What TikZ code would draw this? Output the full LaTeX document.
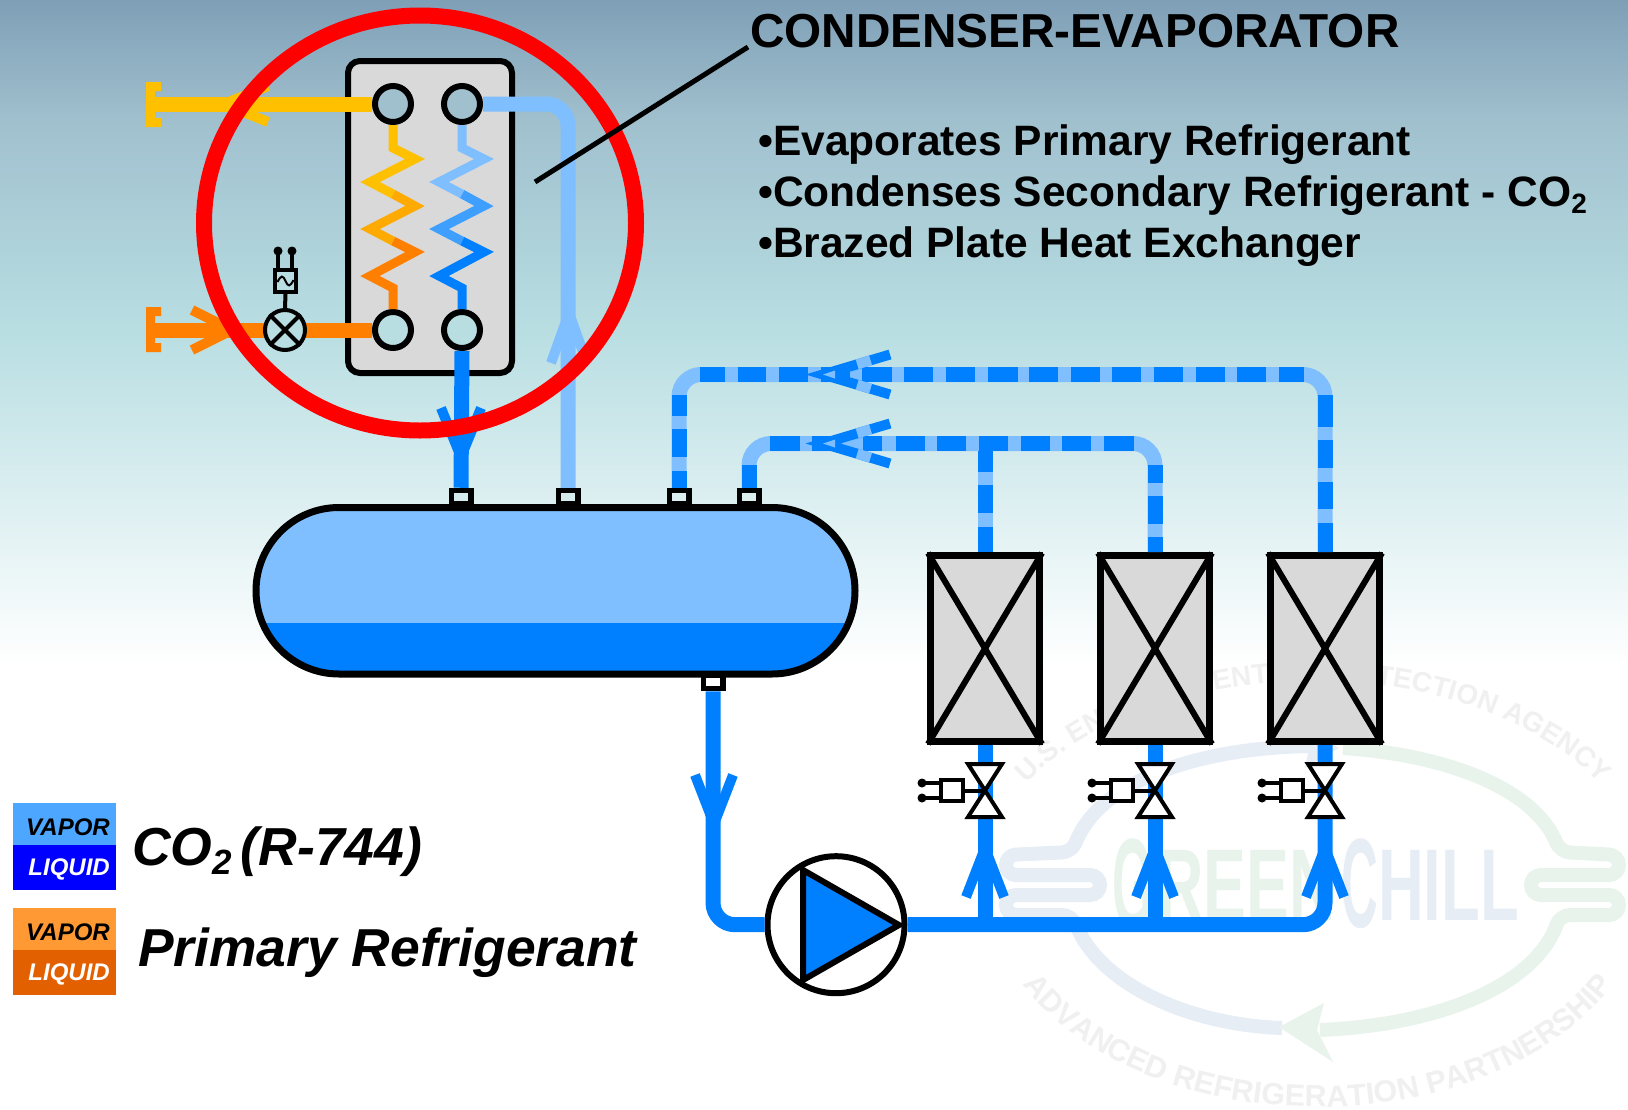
\documentclass[tikz,border=0pt]{standalone}
\usepackage{fontspec}
\usepackage{graphicx}
\setmainfont{Liberation Sans}
\usetikzlibrary{decorations.text,calc}
\definecolor{bgA}{HTML}{7F9FB7}
\definecolor{bgB}{HTML}{A0C0CE}
\definecolor{bgC}{HTML}{B8DEE2}
\definecolor{liq}{HTML}{0080FF}
\definecolor{vap}{HTML}{80BFFF}
\definecolor{midb}{HTML}{3F9FFF}
\definecolor{yel}{HTML}{FFC000}
\definecolor{mido}{HTML}{FFAA00}
\definecolor{ora}{HTML}{FF8000}
\definecolor{wmtext}{HTML}{F0F0F0}
\definecolor{wmgreen}{HTML}{E8F3EC}
\definecolor{wmblue}{HTML}{E6EDF5}
\definecolor{grayfill}{HTML}{D9D9D9}
\tikzset{
  x=1pt,y=-1pt,
  pipe/.style={line width=15pt},
  arm/.style={line width=10pt,miter limit=10},
  zig/.style={line width=9pt,miter limit=10},
  port/.style={circle,draw=black,line width=6pt,minimum size=36pt,inner sep=0pt},
  nozzle/.style={rectangle,draw=black,line width=5.5pt,minimum width=19.5pt,minimum height=13pt,inner sep=0pt},
  cooler/.style={rectangle,draw=black,line width=7pt,fill=grayfill,minimum width=109pt,minimum height=186pt,inner sep=0pt},
  blk/.style={draw=black,line width=6pt},
  thinl/.style={draw=black,line width=4pt},
  legbox/.style={rectangle,minimum width=103pt,inner sep=0pt},
  legtxt/.style={font=\fontsize{24}{24}\selectfont\bfseries\itshape,inner sep=0pt,anchor=base east},
  wmring/.style={line width=14pt,line cap=butt},
  wmarc/.style={decorate,decoration={text along path,text align=center}},
}
\newcommand{\chev}[4]{\draw[#4,arm] (#2)--(#1)--(#3);}
\begin{document}
\begin{tikzpicture}
\useasboundingbox (0,0) rectangle (1628,1109);
% background
\fill[white] (0,0) rectangle (1628,1109);
\shade[top color=bgA,bottom color=bgB] (0,0) rectangle (1628,120);
\shade[top color=bgB,bottom color=bgC] (0,120) rectangle (1628,330);
\shade[top color=bgC,bottom color=white] (0,330) rectangle (1628,665);
% watermark
\begin{scope}
\draw[wmblue,wmring,rounded corners=10pt] (1309,746) .. controls (1200,748) and (1100,780) .. (1072,852) -- (1006,855) -- (1006,875) -- (1100,875) -- (1100,895) -- (1006,895) -- (1006,915) -- (1072,915) .. controls (1100,985) and (1190,1025) .. (1282,1028);
\draw[wmgreen,wmring,rounded corners=10pt] (1343,748) .. controls (1450,755) and (1535,790) .. (1560,852) -- (1619,855) -- (1619,875) -- (1531,875) -- (1531,895) -- (1619,895) -- (1619,915) -- (1560,915) .. controls (1535,985) and (1440,1025) .. (1320,1030);
\fill[wmgreen] (1279,1027) -- (1324,1003) -- (1317,1030) -- (1333,1062) -- cycle;
\fill[wmblue] (1339,748) -- (1305,728) -- (1309,748) -- (1305,768) -- cycle;
\node[inner sep=0pt,text=wmgreen,font=\bfseries] (wmG) at (1133,884) {\scalebox{.41}[1]{\fontsize{127}{127}\selectfont G}};
\node[inner sep=0pt,text=wmgreen,font=\bfseries,anchor=base west] (wmR) at (1157,920) {\scalebox{.63}[1]{\fontsize{102}{102}\selectfont REEN}};
\node[inner sep=0pt,text=wmblue,font=\bfseries] (wmC) at (1360,884) {\scalebox{.4}[1]{\fontsize{127}{127}\selectfont C}};
\node[inner sep=0pt,text=wmblue,font=\bfseries,anchor=base west] (wmH) at (1378,920) {\scalebox{.62}[1]{\fontsize{102}{102}\selectfont HILL}};
\path[wmarc,decoration={text={|\fontsize{28}{28}\selectfont\bfseries\color{wmtext}|U.S. ENVIRONMENTAL PROTECTION AGENCY}}]
  (994.2,832.2) arc[start angle=165,end angle=15,x radius=330pt,y radius=204pt];
\path[wmarc,decoration={text={|\fontsize{30.5}{30.5}\selectfont\bfseries\color{wmtext}|ADVANCED REFRIGERATION PARTNERSHIP}}]
  (1019,978.8) arc[start angle=205,end angle=335,x radius=330pt,y radius=222pt];
\end{scope}

% named locations
\node[cooler] (c1) at (985,648.5) {};
\node[cooler] (c2) at (1155,648.5) {};
\node[cooler] (c3) at (1325,648.5) {};
\node[nozzle,fill=bgC!60!white] (nz1) at (461,497) {};
\node[nozzle,fill=bgC!60!white] (nz2) at (568,497) {};
\node[nozzle,fill=bgC!50!white] (nz3) at (679,497) {};
\node[nozzle,fill=bgC!50!white] (nz4) at (749,497) {};
\node[nozzle,fill=white] (nz5) at (713,682) {};
\coordinate (cA) at (1000,374.5);
\coordinate (cB) at (1000,443.5);
\coordinate (stubY) at (155,104);
\coordinate (stubO) at (155,330);

% left refrigerant stubs
\fill[yel] (146,82) rectangle (155,127) (155,82) rectangle (161,91) (155,118) rectangle (161,127);
\fill[ora] (146,307) rectangle (155,352) (155,307) rectangle (161,316) (155,343) rectangle (161,352);
% arrows on the refrigerant pipes
\coordinate (tipL) at (461,457); \coordinate (l1) at (441,408); \coordinate (l2) at (481,408);
\chev{tipL}{l1}{l2}{liq}
\coordinate (tipV) at (569,313); \coordinate (v1) at (551,363); \coordinate (v2) at (587,363);
\chev{tipV}{v1}{v2}{vap}
\coordinate (tipY) at (224,104); \coordinate (y1) at (268,86); \coordinate (y2) at (268,122);
\chev{tipY}{y1}{y2}{yel}
\coordinate (tipO) at (232,330); \coordinate (o1) at (192,310); \coordinate (o2) at (192,350);
\chev{tipO}{o1}{o2}{ora}

% dashed return lines
\draw[vap,pipe,rounded corners=22pt] (nz3.north) |- (cA) -| (c3.north);
\draw[vap,pipe,rounded corners=22pt] (nz4.north) |- (cB) -| (c2.north);
\draw[vap,pipe] (c1.north) -- (c1.north|-cB);
\foreach \a/\b in {700/725,738/766,779/808,821/850,862/892,904/933,946/975,988/1018,1029/1058,1071/1100,1112/1141,1154/1183,1196/1225,1237/1266,1279/1304}
  \draw[liq,pipe] (\a,374.5) -- (\b,374.5);
\foreach \a/\b in {395/427,440/468,482/509,523/552}
  \draw[liq,pipe] (1325,\a) -- (1325,\b);
\foreach \a/\b in {395/416,429/457,471/488}
  \draw[liq,pipe] (679,\a) -- (679,\b);
\foreach \a/\b in {770/800,812/841,863/882,896/925,937/966,979/1008,1021/1050,1062/1091,1104/1134}
  \draw[liq,pipe] (\a,443.5) -- (\b,443.5);
\foreach \a/\b in {465/483,496/524,537/552}
  \draw[liq,pipe] (1155,\a) -- (1155,\b);
\foreach \a/\b in {451/472,485/513,527/552}
  \draw[liq,pipe] (985,\a) -- (985,\b);
\foreach \a/\b in {465/488}
  \draw[liq,pipe] (749,\a) -- (749,\b);
% dashed chevrons
\foreach \yy/\nm in {374.5/a,443.5/b}{
  \coordinate (t\nm) at (823,\yy);
  \coordinate (e\nm) at (890,\yy-20);
  \coordinate (f\nm) at (890,\yy+20);
  \chev{t\nm}{e\nm}{f\nm}{liq}
  \draw[vap,line width=10pt] ($(t\nm)!.51!(e\nm)$) -- ($(t\nm)!.71!(e\nm)$);
  \draw[vap,line width=10pt] ($(t\nm)!.51!(f\nm)$) -- ($(t\nm)!.71!(f\nm)$);
  \fill[vap] (823,\yy) -- (835,\yy-4) -- (835,\yy+4) -- cycle;
}
% pump pipes and header
\node[circle,draw=black,line width=6pt,fill=white,minimum size=137pt,inner sep=0pt] (pump) at (836,924.7) {};
\draw[liq,pipe,rounded corners=22pt] (nz5.south) |- (pump.west);
\draw[liq,pipe,rounded corners=22pt] (pump.east) -| (c3.south);
\draw[liq,pipe] (c1.south) -- (c1.south|-pump);
\draw[liq,pipe] (c2.south) -- (c2.south|-pump);
\coordinate (tipD) at (714,824); \coordinate (d1) at (695,775); \coordinate (d2) at (733,775);
\chev{tipD}{d1}{d2}{liq}
\coordinate (pa) at (803,870); \coordinate (pb) at (803,980); \coordinate (pc) at (899,925);
\draw[black,line width=6pt,fill=liq,line join=miter] (pa) -- (pc) -- (pb) -- cycle;
% coolers on top of pipes
\foreach \n in {c1,c2,c3}{
  \draw[blk] ($(\n.north west)+(1,1)$) -- ($(\n.south east)+(-1,-1)$);
  \draw[blk] ($(\n.north east)+(-1,1)$) -- ($(\n.south west)+(1,-1)$);
}
% expansion valves and arrows
\foreach \n/\dx in {c1/0,c2/170,c3/340}{
  \begin{scope}[shift={(\dx,0)}]
    \coordinate (up\n) at (985,848); \coordinate (ua\n) at (966,897); \coordinate (ub\n) at (1004,897);
    \chev{up\n}{ua\n}{ub\n}{liq}
    \node[rectangle,thinl,fill=white,minimum width=22pt,minimum height=21pt,inner sep=0pt] (act\n) at (952,790.5) {};
    \coordinate (vc\n) at (985,790.5);
    \coordinate (pu\n) at (922,783); \coordinate (pd\n) at (922,798);
    \fill[black] (pu\n) circle[radius=4.5pt] (pd\n) circle[radius=4.5pt];
    \draw[thinl] (pu\n) -- (act\n.west|-pu\n) (pd\n) -- (act\n.west|-pd\n);
    \draw[thinl] (act\n.east) -- (vc\n);
    \draw[thinl,fill=white,line join=miter] (968,764) -- (1002,764) -- (968,817) -- (1002,817) -- cycle;
  \end{scope}
}
% tank
\newcommand{\tankpath}{(339,507.5) -- (772,507.5) arc[start angle=90,end angle=-90,x radius=83pt,y radius=83.25pt] -- (339,674) arc[start angle=270,end angle=90,x radius=83pt,y radius=83.25pt] -- cycle}
\fill[vap] \tankpath;
\begin{scope}
  \clip \tankpath;
  \fill[liq] (250,623) rectangle (860,680);
\end{scope}
\draw[black,line width=7pt] \tankpath;
% heat exchanger
\draw[black,line width=6pt,fill=grayfill,rounded corners=12pt] (348,61) rectangle (512,373);
\node[port,fill=bgB] (p1) at (393,104) {};
\node[port,fill=bgB] (p2) at (462,104) {};
\node[port,fill=bgC] (p3) at (393,330) {};
\node[port,fill=bgC] (p4) at (462,330) {};
\draw[yel,pipe] (stubY) -- (p1.west);
\draw[vap,pipe,rounded corners=22pt] (p2.east) -| (nz2.north);
\draw[ora,pipe] (stubO) -- (p3.west);
\draw[liq,pipe] (p4.south) -- (nz1.north);
% zigzags
\draw[ora,zig,line join=miter] (393,241) -- (415,252) -- (370,276) -- (393,288) -- (p3.north);
\draw[mido,zig,line join=miter] (393,194) -- (415,206) -- (370,229) -- (393,241);
\draw[yel,zig,line join=miter] (p1.south) -- (393,148) -- (415,159) -- (370,182) -- (393,194);
\draw[liq,zig,line join=miter] (462,241) -- (484,252) -- (439,276) -- (462,288) -- (p4.north);
\draw[midb,zig,line join=miter] (462,194) -- (484,206) -- (439,229) -- (462,241);
\draw[vap,zig,line join=miter] (p2.south) -- (462,148) -- (484,159) -- (439,182) -- (462,194);
% primary expansion valve
\node[circle,thinl,fill=bgC,minimum size=40pt,inner sep=0pt] (xv) at (285,330) {};
\draw[thinl] (xv.north west) -- (xv.south east) (xv.north east) -- (xv.south west);
\node[rectangle,thinl,fill=bgC,minimum width=21pt,minimum height=22pt,inner sep=0pt] (sol) at (285.5,281) {};
\draw[black,line width=2pt] (277.5,282) .. controls (281,275) and (283,275) .. (285.5,281) .. controls (288,287) and (290,287) .. (293.5,280);
\draw[thinl] (sol.south) -- (xv.north);
\coordinate (pinA) at (278,251); \coordinate (pinB) at (292,251);
\fill[black] (pinA) circle[radius=4.5pt] (pinB) circle[radius=4.5pt];
\draw[black,line width=3.5pt] (pinA) -- (pinA|-sol.north) (pinB) -- (pinB|-sol.north);
% red ring
\draw[red,line width=16pt] (420,223) ellipse [x radius=216pt,y radius=207.5pt];
\coordinate (leadA) at (748,47); \coordinate (leadB) at (535,182);
\draw[black,line width=5pt] (leadA) -- (leadB);
% texts
\node[anchor=base west,inner sep=0pt,font=\fontsize{47.7}{47.7}\selectfont\bfseries] (title) at (750,47) {CONDENSER-EVAPORATOR};
\node[anchor=base west,inner sep=0pt,font=\fontsize{42.5}{42.5}\selectfont\bfseries] (b1) at (758,155) {•Evaporates Primary Refrigerant};
\node[anchor=base west,inner sep=0pt,font=\fontsize{42.5}{42.5}\selectfont\bfseries] (b2) at (758,206) {•Condenses Secondary Refrigerant - CO\raisebox{-7pt}{\fontsize{28}{28}\selectfont 2}};
\node[anchor=base west,inner sep=0pt,font=\fontsize{42.5}{42.5}\selectfont\bfseries] (b3) at (758,257) {•Brazed Plate Heat Exchanger};
% legend
\definecolor{lva}{HTML}{4DA6FF}\definecolor{lli}{HTML}{0000FF}\definecolor{ova}{HTML}{FF9933}\definecolor{oli}{HTML}{E36000}
\node[legbox,fill=lva,minimum height=42pt] (lg1) at (64.5,824) {};
\node[legbox,fill=lli,minimum height=45pt] (lg2) at (64.5,867.5) {};
\node[legbox,fill=ova,minimum height=42pt] (lg3) at (64.5,929) {};
\node[legbox,fill=oli,minimum height=45pt] (lg4) at (64.5,972.5) {};
\node[legtxt] (lt1) at (110,835) {VAPOR};
\node[legtxt,text=white] (lt2) at (110,875) {LIQUID};
\node[legtxt] (lt3) at (110,940) {VAPOR};
\node[legtxt,text=white] (lt4) at (110,980) {LIQUID};
\node[anchor=base west,inner sep=0pt,font=\fontsize{53.5}{53.5}\selectfont\bfseries\itshape] (co) at (132,865) {CO\raisebox{-9pt}{\fontsize{35}{35}\selectfont 2}\,(R-744)};
\node[anchor=base west,inner sep=0pt,font=\fontsize{53.4}{53.4}\selectfont\bfseries\itshape] (pr) at (138,966) {Primary Refrigerant};
\end{tikzpicture}
\end{document}
